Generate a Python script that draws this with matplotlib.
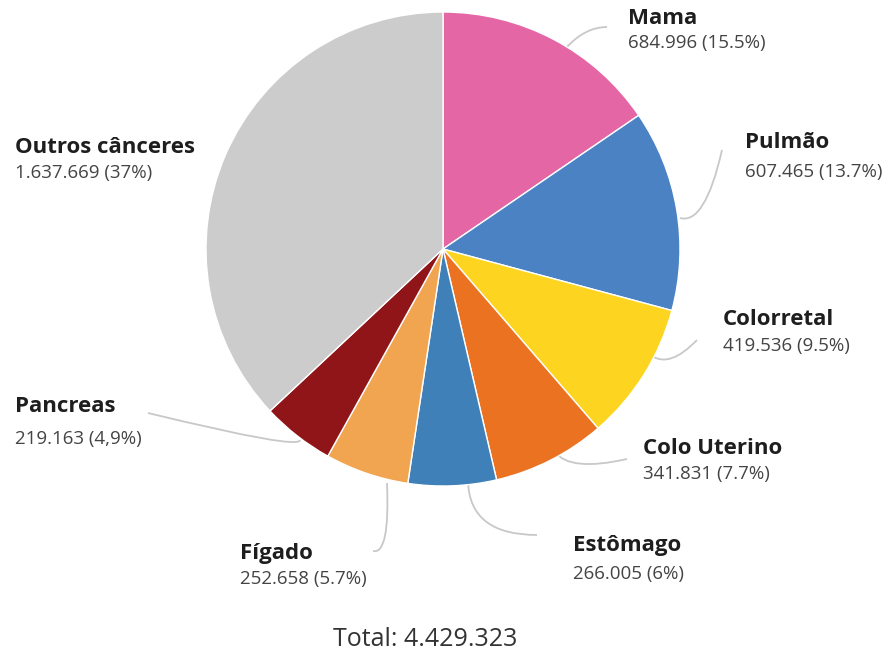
import matplotlib
matplotlib.use("Agg")
import matplotlib.pyplot as plt
from matplotlib.path import Path
from matplotlib.patches import PathPatch

# data
categorias = ["Mama", "Pulmão", "Colorretal", "Colo Uterino", "Estômago",
              "Fígado", "Pancreas", "Outros cânceres"]
casos = [684996, 607465, 419536, 341831, 266005, 252658, 219163, 1637669]
valores_txt = ["684.996 (15.5%)", "607.465 (13.7%)", "419.536 (9.5%)",
               "341.831 (7.7%)", "266.005 (6%)", "252.658 (5.7%)",
               "219.163 (4,9%)", "1.637.669 (37%)"]
cores = ["#E566A5", "#4A82C3", "#FDD520", "#EB7220", "#3F80B8",
         "#F2A550", "#8F1519", "#CCCCCC"]
total_txt = "Total: 4.429.323"

W, H = 895, 657
fig = plt.figure(figsize=(W / 100, H / 100), dpi=100)
ax = fig.add_axes([0, 0, 1, 1])
ax.set_xlim(0, W)
ax.set_ylim(0, H)
ax.set_aspect("equal")
ax.axis("off")

def Y(y):  # pixel y (top-down) -> axes y
    return H - y

ax.pie(casos, colors=cores, startangle=90, counterclock=False,
       center=(443, Y(249)), radius=237,
       wedgeprops=dict(edgecolor="white", linewidth=1))
ax.set_xlim(0, W)
ax.set_ylim(0, H)

# label positions (left x, name y, value y) in pixels
pos_labels = [(628, 18, 43), (745, 143, 172), (723, 320, 346),
              (643, 448, 474), (573, 546, 574), (240, 553, 579),
              (15, 407, 439), (15, 148, 173)]

# leader lines: start, control, end (pixels)
leaders = [
    [(566, 48), (585, 27), (607, 27)],
    [(680, 218), (705, 225), (722, 150)],
    [(652, 356), (670, 368), (697, 340)],
    [(555, 452), (570, 472), (627, 459)],
    [(468, 482), (470, 535), (537, 535)],
    [(387, 483), (390, 555), (373, 551)],
    [(148, 413), (300, 450), (300, 440)],
]

for (x0, y0), (cx, cy), (x1, y1) in leaders:
    p = Path([(x0, Y(y0)), (cx, Y(cy)), (x1, Y(y1))],
             [Path.MOVETO, Path.CURVE3, Path.CURVE3])
    ax.add_patch(PathPatch(p, fill=False, edgecolor="#C8C8C8", lw=1.3, zorder=0))

for nome, val, (x, yn, yv) in zip(categorias, valores_txt, pos_labels):
    ax.text(x, Y(yn), nome, fontsize=16, fontweight="bold", color="#1E1E1E",
            family="Open Sans", ha="left", va="center")
    ax.text(x, Y(yv), val, fontsize=13.5, color="#444444",
            family="Open Sans", ha="left", va="center")

ax.text(425, Y(639), total_txt, fontsize=18, color="#333333",
        family="Open Sans", ha="center", va="center")

fig.savefig("out.png", dpi=100)
